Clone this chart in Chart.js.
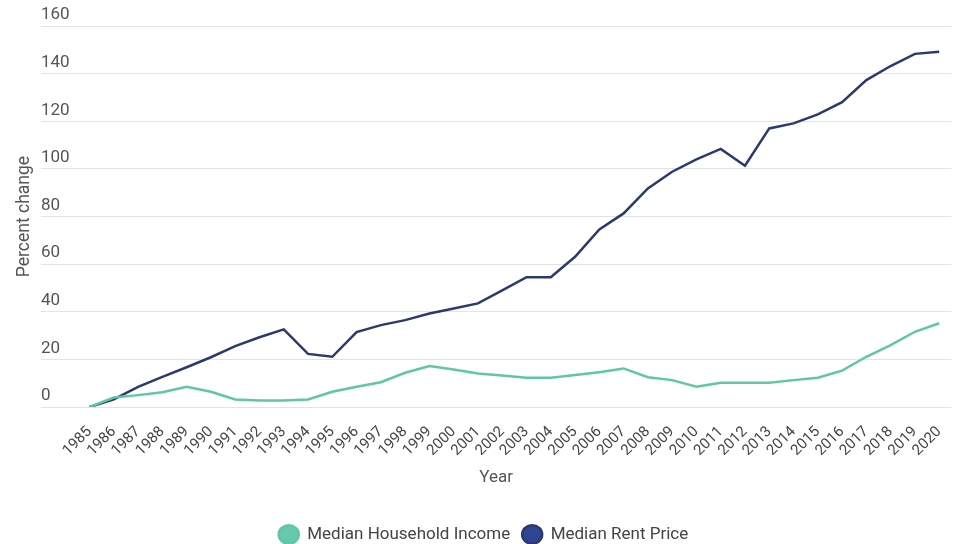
<!DOCTYPE html>
<html>
<head>
<meta charset="utf-8">
<script src="https://cdn.jsdelivr.net/npm/chart.js@4"></script>
<style>
    html, body { margin: 0; padding: 0; background: #fff; }
    #wrap { width: 960px; height: 544px; }
</style>
</head>
<body>
<div id="wrap"><canvas id="chart"></canvas></div>
<script>
const years = [];
for (let y = 1985; y <= 2020; y++) years.push(y);

// percent change since 1985
const incomeChange = [0, 4, 5, 6.2, 8.5, 6.4, 3.2, 2.7, 2.7, 3.2, 6.4, 8.5, 10.4, 14.4, 17.2, 15.8, 14.1,
    13.2, 12.3, 12.3, 13.4, 14.6, 16.2, 12.5, 11.3, 8.5, 10.2, 10.2, 10.2, 11.3, 12.3, 15.3, 21.1, 26, 31.6, 35.2];
const rentChange = [0, 3.2, 8.5, 12.7, 16.7, 20.9, 25.6, 29.3, 32.6, 22.3, 21.1, 31.5, 34.4, 36.5, 39.3, 41.4, 43.5,
    49, 54.5, 54.5, 63.1, 74.6, 81.3, 91.8, 98.8, 104, 108.4, 101.3, 117, 119.1, 122.9, 128, 137.3, 143.2, 148.3, 149.2];
const yTicks = [0, 20, 40, 60, 80, 100, 120, 140, 160];

const font = "Roboto, 'Noto Sans', sans-serif";

const toPoints = (values) => years.map((x, i) => ({ x: x, y: values[i] }));

new Chart(document.getElementById('chart'), {
    type: 'line',
    data: {
        datasets: [
            {
                label: 'Median Household Income',
                data: toPoints(incomeChange),
                borderColor: '#5fc6a6',
                backgroundColor: '#66c8ad',
                borderWidth: 2.5,
            },
            {
                label: 'Median Rent Price',
                data: toPoints(rentChange),
                borderColor: '#2b3a6e',
                backgroundColor: '#2f4592',
                borderWidth: 2.5,
            }
        ]
    },
    options: {
        responsive: true,
        maintainAspectRatio: false,
        animation: false,
        elements: {
            point: { radius: 0, hoverRadius: 0 },
            line: { tension: 0 }
        },
        layout: {
            padding: { top: 26, right: 7, left: 14, bottom: -9 }
        },
        plugins: {
            tooltip: { enabled: false },
            legend: {
                position: 'bottom',
                labels: {
                    usePointStyle: true,
                    pointStyle: 'circle',
                    boxHeight: 13,
                    pointStyleWidth: 20,
                    padding: 12,
                    color: '#444',
                    font: { family: font, size: 17 }
                }
            }
        },
        scales: {
            x: {
                type: 'linear',
                min: 1983,
                max: 2020.5,
                afterBuildTicks: (axis) => {
                    axis.ticks = years.map((v) => ({ value: v }));
                },
                grid: { display: false },
                border: { display: false },
                ticks: {
                    autoSkip: false,
                    minRotation: 45,
                    maxRotation: 45,
                    padding: 8,
                    color: '#444',
                    font: { family: font, size: 15 },
                    callback: (v) => String(v)
                },
                title: {
                    display: true,
                    text: 'Year',
                    color: '#555',
                    font: { family: font, size: 17 },
                    padding: { top: 0, bottom: 26 }
                }
            },
            y: {
                min: 0,
                max: 160,
                afterBuildTicks: (axis) => {
                    axis.ticks = yTicks.map((v) => ({ value: v }));
                },
                grid: { color: '#e3e3e3', lineWidth: 1, drawTicks: false },
                border: { display: false },
                ticks: {
                    mirror: true,
                    labelOffset: -11,
                    padding: 0,
                    color: '#555',
                    font: { family: font, size: 17 }
                },
                title: {
                    display: true,
                    text: 'Percent change',
                    color: '#555',
                    font: { family: font, size: 17.5 },
                    padding: { top: 0, bottom: 6 }
                }
            }
        }
    }
});
</script>
</body>
</html>
